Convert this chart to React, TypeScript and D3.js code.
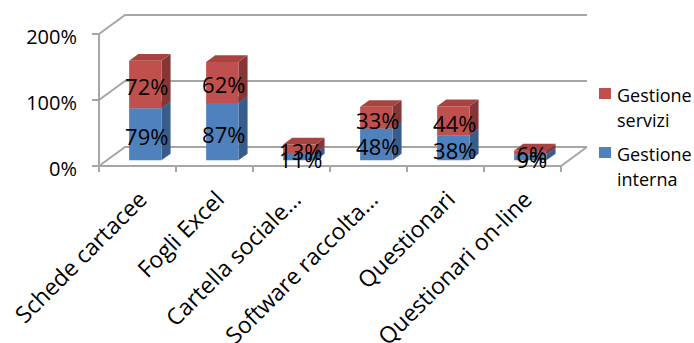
import React from "react";
import * as d3 from "d3";

const categories = [
  "Schede cartacee",
  "Fogli Excel",
  "Cartella sociale…",
  "Software raccolta…",
  "Questionari",
  "Questionari on-line",
];
const gestioneInterna = [0.79, 0.87, 0.11, 0.48, 0.38, 0.09];
const gestioneServizi = [0.72, 0.62, 0.13, 0.33, 0.44, 0.06];
const yTicks = [0, 1, 2];
const seriesNames = ["Gestione interna", "Gestione servizi"];

const W = 694;
const H = 343;
const FONT = "'Open Sans', Lato, sans-serif";

const colors = [
  { front: "#4F81BD", top: "#4672A8", side: "#385D8A" },
  { front: "#C0504D", top: "#A74441", side: "#863735" },
];

export default function App() {
  const x = d3.scaleBand<string>().domain(categories).range([99, 561]).padding(0);
  const y = d3.scaleLinear().domain([0, 2]).range([166, 34]);
  const DX = 26;
  const DY = -19;
  const P = (px: number, v: number, d: number): [number, number] => [px + d * DX, y(v) + d * DY];
  const pts = (arr: [number, number][]) => arr.map((p) => p.join(",")).join(" ");
  const gridColor = "#A6A6A6";
  const bw = x.bandwidth();
  const barW = bw * 0.42;
  const d0 = 0.3;
  const d1 = 0.65;

  const stacks = categories.map((c, i) => {
    const vals = [gestioneInterna[i], gestioneServizi[i]];
    let base = 0;
    return vals.map((v, s) => {
      const seg = { s, y0: base, y1: base + v, v };
      base += v;
      return seg;
    });
  });

  return (
    <svg width={W} height={H} style={{ display: "block", position: "absolute", left: 0, top: 0, background: "#fff" }}>
      {/* walls gridlines */}
      {yTicks.map((t) => {
        const fl = P(99, t, 0);
        const bl = P(99, t, 1);
        const br = P(561, t, 1);
        return (
          <g key={t}>
            <polyline points={pts([fl, bl, br])} fill="none" stroke={gridColor} strokeWidth={2} />
            <line x1={fl[0] - 7} x2={fl[0]} y1={fl[1]} y2={fl[1]} stroke={gridColor} strokeWidth={2} />
            <text x={77} y={fl[1] + 2.5} textAnchor="end" dominantBaseline="central" fontFamily={FONT} fontSize={20} fill="#000">
              {`${t * 100}%`}
            </text>
          </g>
        );
      })}
      {/* floor */}
      <polyline points={pts([P(561, 0, 1), P(561, 0, 0), P(99, 0, 0)])} fill="none" stroke={gridColor} strokeWidth={2} />
      <line x1={99} x2={99} y1={y(2)} y2={y(0)} stroke={gridColor} strokeWidth={2} />
      {[...categories.map((c) => x(c) as number), 561].map((px, i) => (
        <line key={i} x1={px} x2={px} y1={y(0)} y2={y(0) + 6} stroke={gridColor} strokeWidth={2} />
      ))}
      {/* bars */}
      {categories.map((c, i) => {
        const xl = (x(c) as number) + (bw - barW) / 2;
        const xr = xl + barW;
        return (
          <g key={c}>
            {stacks[i].map((seg) => {
              const col = colors[seg.s];
              const front = [P(xl, seg.y0, d0), P(xr, seg.y0, d0), P(xr, seg.y1, d0), P(xl, seg.y1, d0)];
              const side = [P(xr, seg.y0, d0), P(xr, seg.y0, d1), P(xr, seg.y1, d1), P(xr, seg.y1, d0)];
              const top = [P(xl, seg.y1, d0), P(xr, seg.y1, d0), P(xr, seg.y1, d1), P(xl, seg.y1, d1)];
              return (
                <g key={seg.s}>
                  <polygon points={pts(side)} fill={col.side} />
                  <polygon points={pts(top)} fill={col.top} />
                  <polygon points={pts(front)} fill={col.front} />
                </g>
              );
            })}
          </g>
        );
      })}
      {/* data labels */}
      {categories.map((c, i) => {
        const xl = (x(c) as number) + (bw - barW) / 2;
        return stacks[i].map((seg) => {
          const [lx, ly] = P(xl + barW / 2, (seg.y0 + seg.y1) / 2, d0);
          return (
            <text key={c + seg.s} x={lx + 1.5} y={ly + 2} textAnchor="middle" dominantBaseline="central" fontFamily={FONT} fontSize={22} fill="#000">
              {`${Math.round(seg.v * 100)}%`}
            </text>
          );
        });
      })}
      {/* category labels */}
      {categories.map((c) => {
        const cx = (x(c) as number) + bw / 2 + 11;
        return (
          <text key={c} transform={`translate(${cx},201) rotate(-45)`} textAnchor="end" fontFamily={FONT} fontSize={23} fill="#000">
            {c}
          </text>
        );
      })}
      {/* legend */}
      {[1, 0].map((s, k) => {
        const top = 88 + k * 59;
        const parts = seriesNames[s].split(" ");
        return (
          <g key={s}>
            <rect x={599} y={top} width={12} height={11} fill={colors[s].front} />
            <text x={617} y={top + 14} fontFamily={FONT} fontSize={18} fill="#000">
              <tspan x={617}>{parts[0]}</tspan>
              <tspan x={617} dy={25}>{parts[1]}</tspan>
            </text>
          </g>
        );
      })}
    </svg>
  );
}
